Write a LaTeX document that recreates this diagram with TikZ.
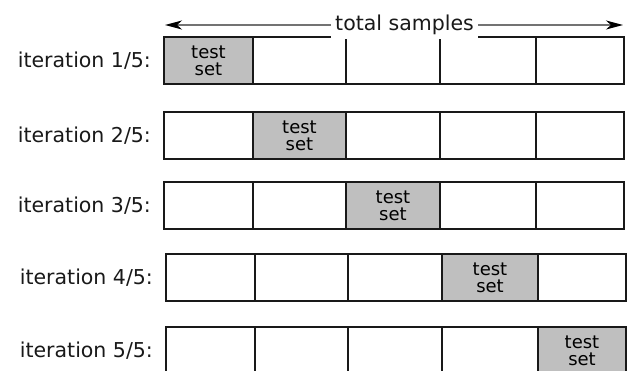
\documentclass[tikz,border=0pt]{standalone}
\usepackage{fontspec}
\setmainfont{DejaVu Sans}
\usetikzlibrary{positioning,arrows.meta}
\tikzset{
    cell/.style={
        rectangle, draw=black!90,
        line width=1.8pt, inner sep=0pt,
        minimum height=47pt, fill=white
    },
    testcell/.style={
        cell, fill=black!25, align=center,
        font=\fontsize{18}{17}\selectfont
    },
    iterlabel/.style={
        inner sep=0pt, text=black!90,
        font=\fontsize{20.5}{24}\selectfont
    }
}

\begin{document}
\begin{tikzpicture}[x=1pt, y=1pt]

        \useasboundingbox (0,0) rectangle (629,-370);
        \clip (0,0) rectangle (629,-370);

        % Folds
        \foreach \r/\top/\dx in {1/37/0, 2/112/0, 3/182/0, 4/254/2, 5/327/2} {
            \foreach \c/\xl/\xr in {1/164/253, 2/253/346, 3/346/440, 4/440/536, 5/536/624} {
                \pgfmathsetmacro{\xm}{(\xl+\xr)/2+\dx}
                \pgfmathsetmacro{\ym}{-\top-23.5}
                \pgfmathsetmacro{\cellw}{\xr-\xl}
                \ifnum\c=\r
                    \node[testcell, minimum width=\cellw pt] (c\r\c) at (\xm,\ym) {test\\set};
                \else
                    \node[cell, minimum width=\cellw pt] (c\r\c) at (\xm,\ym) {};
                \fi
            }
            % Labels
            \node[iterlabel, left=12pt of c\r1] (lab\r) {iteration \r/5:};
        }

        % Samples arrow
        \coordinate (aleft) at (165,-25);
        \coordinate (aright) at (623,-25);
        \draw[black!55, line width=1.2pt,
              {Stealth[black, length=17pt, width=9pt, inset=5pt]}-{Stealth[black, length=17pt, width=9pt, inset=5pt]}]
            (aleft) -- node[pos=0.523, fill=white, text=black!90, inner sep=4pt,
                            font=\fontsize{20.5}{24}\selectfont] (total) {total samples} (aright);

    \end{tikzpicture}
\end{document}
